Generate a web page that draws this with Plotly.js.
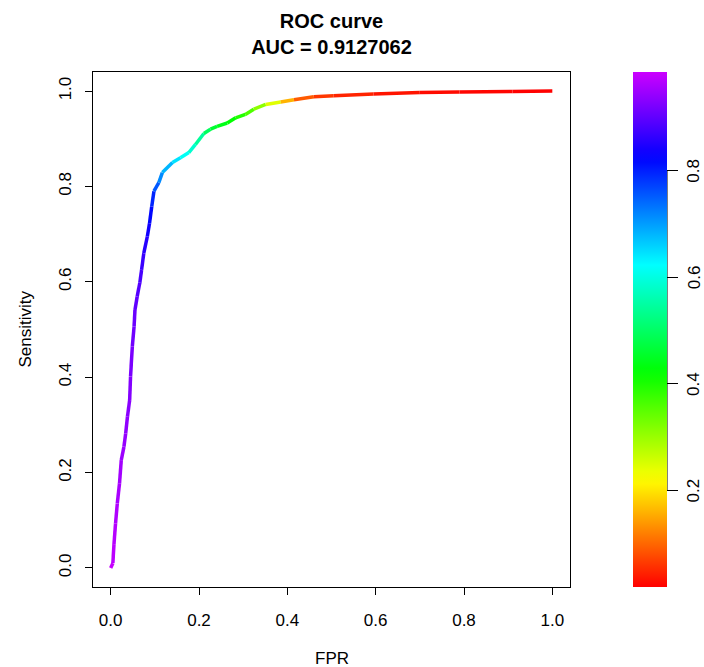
<!DOCTYPE html>
<html>
<head>
<meta charset="utf-8">
<script src="https://cdn.plot.ly/plotly-3.0.1.min.js"></script>
<style>html,body{margin:0;padding:0;background:#fff;}#chart{width:704px;height:667px;}</style>
</head>
<body>
<div id="chart"></div>
<script>
// ROC curve points
const fpr = [0, 0.005, 0.0075, 0.011, 0.015, 0.02, 0.024, 0.03, 0.034, 0.038, 0.043, 0.045, 0.049, 0.053, 0.055, 0.06, 0.066, 0.07, 0.075, 0.083, 0.088, 0.093, 0.098, 0.109, 0.117, 0.14, 0.158, 0.177, 0.192, 0.211, 0.226, 0.241, 0.264, 0.283, 0.305, 0.324, 0.351, 0.385, 0.415, 0.46, 0.505, 0.595, 0.70, 0.79, 0.91, 1.0];
const tpr = [0, 0.01, 0.05, 0.093, 0.135, 0.177, 0.226, 0.254, 0.282, 0.317, 0.352, 0.401, 0.464, 0.506, 0.541, 0.569, 0.598, 0.625, 0.66, 0.695, 0.723, 0.758, 0.79, 0.808, 0.829, 0.85, 0.86, 0.871, 0.888, 0.911, 0.92, 0.926, 0.933, 0.944, 0.951, 0.962, 0.972, 0.977, 0.982, 0.988, 0.990, 0.994, 0.997, 0.998, 0.999, 1.0];
const cutoffs = [0.985, 0.975, 0.97, 0.965, 0.96, 0.955, 0.95, 0.945, 0.94, 0.935, 0.93, 0.925, 0.915, 0.91, 0.905, 0.895, 0.885, 0.875, 0.865, 0.845, 0.83, 0.81, 0.78, 0.73, 0.70, 0.66, 0.63, 0.60, 0.57, 0.52, 0.47, 0.45, 0.43, 0.41, 0.38, 0.34, 0.28, 0.21, 0.11, 0.07, 0.055, 0.04, 0.03, 0.025, 0.021, 0.019];
const axisTicks = [0, 0.2, 0.4, 0.6, 0.8, 1.0];
const cbarTicks = [0.2, 0.4, 0.6, 0.8];
const chartTitle = "ROC curve";
const aucText = "AUC = 0.9127062";
const xLabel = "FPR";
const yLabel = "Sensitivity";

const cmin = Math.min(...cutoffs), cmax = Math.max(...cutoffs);
const HUE_END = 288; // rainbow end = 0.8
function colorFor(c){
  const t = Math.max(0, Math.min(1, (c - cmin) / (cmax - cmin)));
  return 'hsl(' + (HUE_END * t).toFixed(1) + ',100%,50%)';
}
const colorscale = [];
for (let i = 0; i <= 40; i++) {
  const t = i / 40;
  colorscale.push([t, 'hsl(' + (HUE_END * t).toFixed(1) + ',100%,50%)']);
}

const traces = [];
for (let i = 0; i < fpr.length - 1; i++) {
  traces.push({
    type: 'scatter', mode: 'lines',
    x: [fpr[i], fpr[i+1]], y: [tpr[i], tpr[i+1]],
    line: {color: colorFor((cutoffs[i] + cutoffs[i+1]) / 2), width: 3.5},
    hoverinfo: 'skip', showlegend: false
  });
}
// colour bar carrier
traces.push({
  type: 'scatter', mode: 'markers', x: fpr, y: tpr, showlegend: false, hoverinfo: 'skip',
  marker: {
    size: 0.001, opacity: 0, color: cutoffs, cmin: cmin, cmax: cmax, colorscale: colorscale, showscale: true,
    colorbar: {
      x: (633 - 93) / 477, xanchor: 'left', xpad: 0, y: 0, yanchor: 'bottom', ypad: 0,
      len: 1, lenmode: 'fraction', thickness: 34, outlinewidth: 0,
      tickmode: 'array', tickvals: cbarTicks, showticklabels: false,
      ticks: 'outside', ticklen: 11, tickwidth: 1, tickcolor: '#000'
    }
  }
});

const font = {family: 'Liberation Sans, Arial, sans-serif', size: 17, color: '#000'};
const cbX = (694 - 93) / 477;
const annotations = [
  {text: xLabel, xref: 'paper', yref: 'paper', x: 0.5, y: (587 - 658) / 515, xanchor: 'center', yanchor: 'middle', showarrow: false, font: font},
  {text: yLabel, xref: 'paper', yref: 'paper', x: (25 - 93) / 477, y: 0.5, xanchor: 'center', yanchor: 'middle', textangle: -90, showarrow: false, font: font}
];
cbarTicks.forEach(v => annotations.push({
  text: v.toFixed(1), xref: 'paper', yref: 'paper', x: cbX, y: (v - cmin) / (cmax - cmin),
  xanchor: 'center', yanchor: 'middle', textangle: -90, showarrow: false, font: font
}));

const layout = {
  width: 704, height: 667,
  margin: {l: 93, r: 134, t: 72, b: 80, autoexpand: false},
  paper_bgcolor: '#fff', plot_bgcolor: '#fff',
  font: font,
  title: {
    text: '<b>' + chartTitle + '</b><br><b>' + aucText + '</b>',
    font: {family: 'Liberation Sans, Arial, sans-serif', size: 20, color: '#000'},
    xref: 'paper', x: 0.5, xanchor: 'center', yref: 'container', y: 1 - 28 / 667, yanchor: 'middle'
  },
  xaxis: {
    range: [-0.04, 1.04], tickmode: 'array', tickvals: axisTicks, ticktext: axisTicks.map(v => v.toFixed(1)),
    showgrid: false, zeroline: false, showline: true, mirror: true, linecolor: '#000', linewidth: 1,
    ticks: 'outside', ticklen: 7, tickcolor: '#000', tickfont: font, ticklabelstandoff: 11
  },
  yaxis: {
    range: [-0.04, 1.04], tickmode: 'array', tickvals: axisTicks, ticktext: axisTicks.map(v => v.toFixed(1)),
    showgrid: false, zeroline: false, showline: true, mirror: true, linecolor: '#000', linewidth: 1,
    ticks: 'outside', ticklen: 7, tickcolor: '#000', tickangle: -90, tickfont: font, ticklabelstandoff: 7
  },
  shapes: [{
    type: 'line', xref: 'paper', yref: 'paper',
    x0: (667 - 93) / 477, x1: (667 - 93) / 477,
    y0: (cbarTicks[0] - cmin) / (cmax - cmin), y1: (cbarTicks[cbarTicks.length-1] - cmin) / (cmax - cmin),
    line: {color: '#000', width: 1}
  }],
  annotations: annotations
};

Plotly.newPlot('chart', traces, layout, {displayModeBar: false, staticPlot: true});
</script>
</body>
</html>
